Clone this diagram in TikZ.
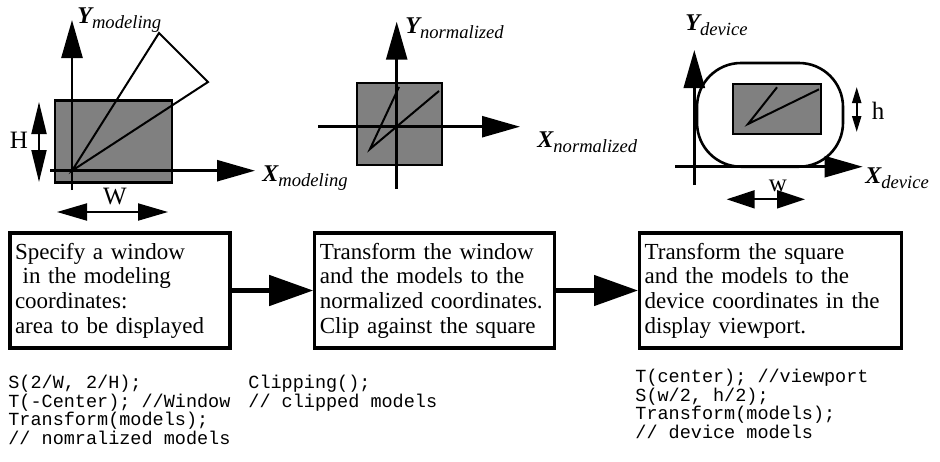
\documentclass[tikz,border=0pt]{standalone}
\usepackage{fontspec}
\setmainfont{Liberation Serif}
\setmonofont{Liberation Mono}
\usetikzlibrary{positioning, arrows.meta}
\definecolor{wingray}{RGB}{128,128,128}
\tikzset{
  axis/.style={line width=1.3pt, -{Triangle[length=19pt, width=10.5pt]}},
  win/.style={draw, line width=1.3pt, fill=wingray},
  model/.style={line width=1pt, line join=miter},
  dim/.style 2 args={line width=1pt,
    {Triangle[length=#1, width=#2]}-{Triangle[length=#1, width=#2]}},
  stepbox/.style={draw, line width=1.6pt, align=left, inner xsep=2.5pt,
    font=\fontsize{11.5}{12.3}\selectfont, minimum height=57.5pt},
  flow/.style={line width=2.3pt, -{Triangle[length=22pt, width=15pt]}},
  code/.style={font=\ttfamily\fontsize{9.25}{9.2}\selectfont, align=left,
    anchor=north west, inner sep=0pt},
  axlabel/.style={anchor=base west, inner sep=0pt},
  dimlabel/.style={font=\fontsize{12.5}{13}\selectfont, inner sep=0pt}
}
\newcommand{\axname}[2]{{\fontsize{12}{13}\selectfont\bfseries\itshape #1}%
  \raisebox{-2.5pt}{\fontsize{9.3}{10}\selectfont\itshape #2}}

\begin{document}
\begin{tikzpicture}[x=0.5pt, y=-0.5pt]
  \useasboundingbox (0,0) rectangle (940,461);
  % modeling coordinates
  \draw[win] (55,100.7) rectangle (172,182.7);
  \draw[axis] (72,190) -- (72,20);
  \draw[axis] (50,170.7) -- (255,170.7);
  \draw[model] (72,170.7) -- (159,33) -- (208,82) -- cycle;
  \draw[dim={16pt}{7.5pt}] (39,102) -- (39,182);
  \draw[dim={15pt}{8.5pt}] (57,212) -- (168,212);
  \node[dimlabel] (hmod) at (19,140) {H};
  \node[dimlabel] (wmod) at (115,196) {W};
  \node[axlabel] (ymod) at (77,23) {\axname{Y}{modeling}};
  \node[axlabel] (xmod) at (262,181) {\axname{X}{modeling}};
  % normalized coordinates
  \draw[win] (357,83) rectangle (442,165);
  \draw[axis] (396.7,189) -- (396.7,21.7);
  \draw[axis] (318,126.7) -- (520,126.7);
  \draw[model] (399,87) -- (370,149) -- (439,91);
  \node[axlabel] (ynorm) at (405,33) {\axname{Y}{normalized}};
  \node[axlabel] (xnorm) at (537,147) {\axname{X}{normalized}};
  % device coordinates
  \draw[axis] (694.3,185) -- (694.3,50);
  \draw[axis] (675,166.7) -- (862.7,166.7);
  \draw[line width=1.3pt, rounded corners=22pt] (697,63) rectangle (843,166.7);
  \draw[win] (733,84) rectangle (821,134);
  \draw[model] (777,87.3) -- (748,124) -- (819,89.3);
  \draw[dim={8pt}{4.5pt}] (856.7,87) -- (856.7,132);
  \draw[dim={14pt}{9pt}] (726.7,199.3) -- (805,199.3);
  \node[dimlabel] (hdev) at (878,111) {h};
  \node[dimlabel] (wdev) at (778,186) {w};
  \node[axlabel] (ydev) at (685,30) {\axname{Y}{device}};
  \node[axlabel] (xdev) at (865,183) {\axname{X}{device}};
  % steps
  \node[stepbox, minimum width=110pt, text width=105pt] (spec) at (120,290.5)
    {Specify a window\\ \ in the modeling\\ coordinates:\\ area to be displayed};
  \node[stepbox, minimum width=120pt, text width=115pt, right=40.8pt of spec] (norm)
    {Transform the window\\ and the models to the\\ normalized coordinates.\\ Clip against the square};
  \node[stepbox, minimum width=131pt, text width=126pt, right=40.8pt of norm] (dev)
    {Transform the square\\ and the models to the\\ device coordinates in the\\ display viewport.\\[6pt]};
  \draw[flow] (spec) -- (norm);
  \draw[flow] (norm) -- (dev);
  \node[code] (code1) at (8,375)
    {S(2/W, 2/H);\\ T(-Center); //Window\\ Transform(models);\\ // nomralized models};
  \node[code] (code2) at (248,375) {Clipping();\\ // clipped models};
  \node[code] (code3) at (635,369)
    {T(center); //viewport\\ S(w/2, h/2);\\ Transform(models);\\ // device models};
\end{tikzpicture}
\end{document}
